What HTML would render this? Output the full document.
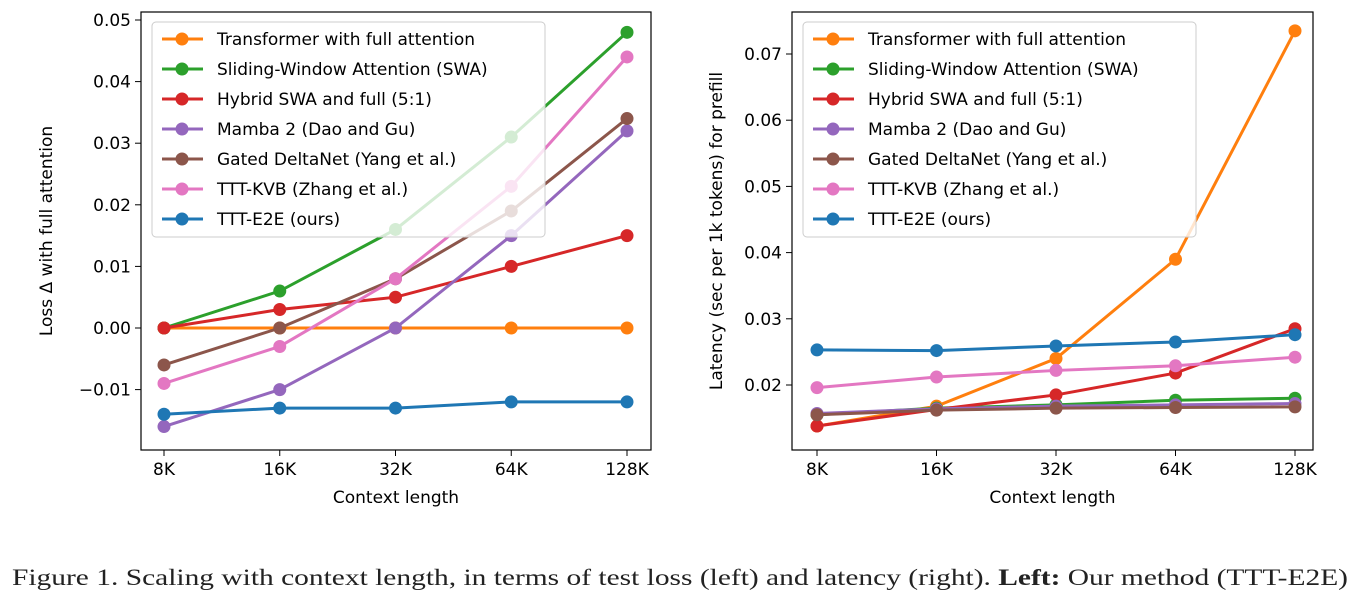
<!DOCTYPE html>
<html><head><meta charset="utf-8"><style>
body{margin:0;background:#fff;width:1360px;height:599px;overflow:hidden}
svg{font-family:"DejaVu Sans","Liberation Sans",sans-serif}
</style></head><body>
<svg id="chart" width="1360" height="599" style="position:absolute;left:0;top:0">
<text x="12" y="585" font-size="23" textLength="1336" lengthAdjust="spacingAndGlyphs" style="font-family:'Liberation Serif',serif" fill="#222">Figure 1. Scaling with context length, in terms of test loss (left) and latency (right). <tspan font-weight="bold">Left:</tspan> Our method (TTT-E2E)</text>
</svg>
<script>
const categories=["8K","16K","32K","64K","128K"];
const seriesNames=["Transformer with full attention","Sliding-Window Attention (SWA)","Hybrid SWA and full (5:1)","Mamba 2 (Dao and Gu)","Gated DeltaNet (Yang et al.)","TTT-KVB (Zhang et al.)","TTT-E2E (ours)"];
const colors=["#ff7f0e","#2ca02c","#d62728","#9467bd","#8c564b","#e377c2","#1f77b4"];
const lossTransformer=[0,0,0,0,0];
const lossSWA=[0,0.006,0.016,0.031,0.048];
const lossHybrid=[0,0.003,0.005,0.010,0.015];
const lossMamba=[-0.016,-0.010,0.000,0.015,0.032];
const lossGated=[-0.006,0.000,0.008,0.019,0.034];
const lossKVB=[-0.009,-0.003,0.008,0.023,0.044];
const lossE2E=[-0.014,-0.013,-0.013,-0.012,-0.012];
const latTransformer=[0.0138,0.0168,0.0240,0.0390,0.0735];
const latSWA=[0.0155,0.0165,0.0170,0.0177,0.0180];
const latHybrid=[0.0138,0.0163,0.0185,0.0218,0.0285];
const latMamba=[0.0157,0.0164,0.0168,0.0170,0.0172];
const latGated=[0.0155,0.0162,0.0165,0.0166,0.0167];
const latKVB=[0.0196,0.0212,0.0222,0.0229,0.0242];
const latE2E=[0.0253,0.0252,0.0259,0.0265,0.0276];
const lossTicks=["-0.01","0.00","0.01","0.02","0.03","0.04","0.05"];
const latTicks=["0.02","0.03","0.04","0.05","0.06","0.07"];

const NS="http://www.w3.org/2000/svg";
const svg=document.getElementById('chart');
function mk(tag,attrs,parent,name){const e=document.createElementNS(NS,tag);for(const k in attrs)e.setAttribute(k,attrs[k]);


(parent||svg).appendChild(e);return e;}

function panel(p){
  const g=mk('g',{},svg,p.name);
  const x=i=>p.x0+(p.x1-p.x0)*i/(categories.length-1);
  const y=v=>p.yRef+(p.vRef-v)*p.pxPer;
  mk('rect',{x:p.L,y:p.T,width:p.R-p.L,height:p.B-p.T,fill:'none',stroke:'#000','stroke-width':1.2},g,'plot-frame');
  p.ticks.forEach(t=>{const yy=y(parseFloat(t));
    mk('line',{x1:p.L-6,x2:p.L,y1:yy,y2:yy,stroke:'#000'},g,'y-tick');
    const tx=mk('text',{x:p.L-10,y:yy+6,'text-anchor':'end','font-size':17},g,'y-tick-label');tx.textContent=t.replace('-','−');});
  categories.forEach((c,i)=>{
    mk('line',{x1:x(i),x2:x(i),y1:p.B,y2:p.B+6,stroke:'#000'},g,'x-tick');
    const tx=mk('text',{x:x(i),y:p.B+25,'text-anchor':'middle','font-size':17},g,'x-tick-label');tx.textContent=c;});
  const xl=mk('text',{x:(p.L+p.R)/2,y:p.B+53,'text-anchor':'middle','font-size':17},g,'x-axis-title');xl.textContent='Context length';
  const yl=mk('text',{x:0,y:0,'text-anchor':'middle','font-size':17,transform:`translate(${p.yLabX},${(p.T+p.B)/2}) rotate(-90)`},g,'y-axis-title');yl.textContent=p.ylabel;
  p.series.forEach((s,k)=>{
    const sg=mk('g',{},g,'series-'+k);
    mk('polyline',{points:s.map((v,i)=>x(i)+','+y(v)).join(' '),fill:'none',stroke:colors[k],'stroke-width':3},sg,'series-line');
    s.forEach((v,i)=>mk('circle',{cx:x(i),cy:y(v),r:6.5,fill:colors[k]},sg,'series-point'));
  });
  const lg=mk('g',{},g,'legend');
  mk('rect',{x:p.L+11,y:p.T+10,width:393,height:215,rx:4,fill:'#fff','fill-opacity':0.8,stroke:'#ccc'},lg,'legend-box');
  seriesNames.forEach((n,k)=>{const yy=p.T+27+k*30;
    mk('line',{x1:p.L+21,x2:p.L+62,y1:yy,y2:yy,stroke:colors[k],'stroke-width':3},lg,'legend-line');
    mk('circle',{cx:p.L+41,cy:yy,r:6.5,fill:colors[k]},lg,'legend-marker');
    const t=mk('text',{x:p.L+76,y:yy+6,'font-size':17},lg,'legend-entry');t.textContent=n;});
}
panel({name:'loss-panel',L:141,R:651,T:12,B:450,x0:164,x1:627,yRef:328,vRef:0,pxPer:6160,ticks:lossTicks,yLabX:52,ylabel:'Loss Δ with full attention',
 series:[lossTransformer,lossSWA,lossHybrid,lossMamba,lossGated,lossKVB,lossE2E]});
panel({name:'latency-panel',L:792,R:1313,T:12,B:450,x0:817,x1:1295,yRef:385,vRef:0.02,pxPer:6620,ticks:latTicks,yLabX:722,ylabel:'Latency (sec per 1k tokens) for prefill',
 series:[latTransformer,latSWA,latHybrid,latMamba,latGated,latKVB,latE2E]});
</script>
</body></html>
